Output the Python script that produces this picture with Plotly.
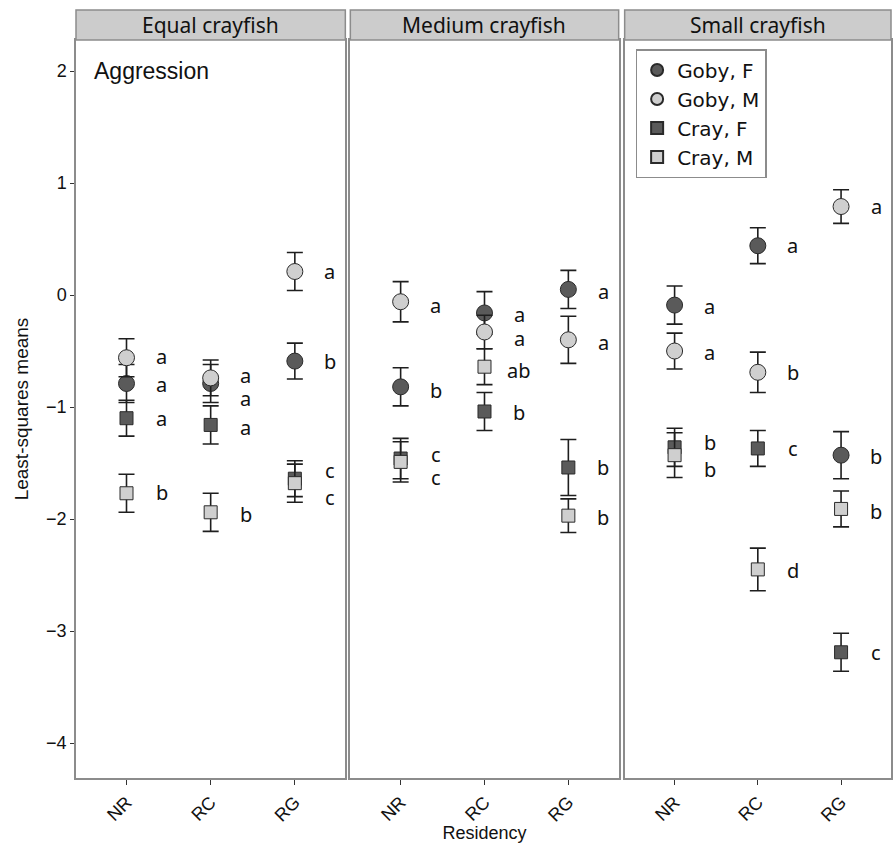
import plotly.graph_objects as go

facets = ["Equal crayfish", "Medium crayfish", "Small crayfish"]
residency = ["NR", "RC", "RG"]
series = ["Goby, F", "Goby, M", "Cray, F", "Cray, M"]

# means[series][facet] -> values for NR, RC, RG
means = {
    "Goby, F": [[-0.79, -0.79, -0.59], [-0.82, -0.16, 0.05], [-0.09, 0.44, -1.43]],
    "Goby, M": [[-0.56, -0.74, 0.21], [-0.06, -0.33, -0.40], [-0.50, -0.69, 0.79]],
    "Cray, F": [[-1.10, -1.16, -1.64], [-1.46, -1.04, -1.54], [-1.36, -1.37, -3.19]],
    "Cray, M": [[-1.77, -1.94, -1.68], [-1.49, -0.64, -1.97], [-1.43, -2.45, -1.91]],
}
ses = {
    "Goby, F": [[0.17, 0.17, 0.16], [0.17, 0.19, 0.17], [0.17, 0.16, 0.21]],
    "Goby, M": [[0.17, 0.16, 0.17], [0.18, 0.15, 0.21], [0.16, 0.18, 0.15]],
    "Cray, F": [[0.16, 0.17, 0.16], [0.18, 0.17, 0.25], [0.17, 0.16, 0.17]],
    "Cray, M": [[0.17, 0.17, 0.17], [0.18, 0.16, 0.15], [0.20, 0.19, 0.16]],
}
letters = {
    "Goby, F": [["a", "a", "b"], ["b", "a", "a"], ["a", "a", "b"]],
    "Goby, M": [["a", "a", "a"], ["a", "a", "a"], ["a", "b", "a"]],
    "Cray, F": [["a", "a", "c"], ["c", "b", "b"], ["b", "c", "c"]],
    "Cray, M": [["b", "b", "c"], ["c", "ab", "b"], ["b", "d", "b"]],
}
letter_y = {
    "Goby, F": [[-0.80, -0.92, -0.59], [-0.85, -0.17, 0.03], [-0.10, 0.44, -1.44]],
    "Goby, M": [[-0.55, -0.72, 0.21], [-0.09, -0.39, -0.42], [-0.51, -0.69, 0.79]],
    "Cray, F": [[-1.10, -1.18, -1.57], [-1.42, -1.05, -1.54], [-1.32, -1.37, -3.19]],
    "Cray, M": [[-1.76, -1.96, -1.81], [-1.63, -0.67, -1.99], [-1.56, -2.46, -1.93]],
}

fill = {"Goby, F": "#5a5a5a", "Goby, M": "#cfcfcf", "Cray, F": "#5a5a5a", "Cray, M": "#cfcfcf"}
symbol = {"Goby, F": "circle", "Goby, M": "circle", "Cray, F": "square", "Cray, M": "square"}
msize = {"Goby, F": 16, "Goby, M": 16, "Cray, F": 13, "Cray, M": 13}

W, H = 894, 843
ml, mr, mt, mb = 76, 1, 40, 65
pw = W - ml - mr
ph = H - mt - mb
px_dom = [(76, 346), (351, 620), (626, 893)]
domains = [((a - ml) / pw, (b - ml) / pw) for a, b in px_dom]

fig = go.Figure()
xpos = list(range(len(residency)))
ann = []
for fi, fac in enumerate(facets):
    xa = "x" if fi == 0 else f"x{fi+1}"
    ya = "y" if fi == 0 else f"y{fi+1}"
    for s in series:
        fig.add_trace(go.Scatter(
            x=xpos, y=means[s][fi], xaxis=xa, yaxis=ya, mode="markers",
            name=s, showlegend=(fi == 2),
            marker=dict(symbol=symbol[s], size=msize[s], color=fill[s],
                        line=dict(color="#2a2a2a", width=1)),
            error_y=dict(type="data", array=ses[s][fi], color="#1e1e1e",
                         thickness=1.6, width=8),
        ))
        for i in range(len(residency)):
            ann.append(dict(x=xpos[i], y=letter_y[s][fi][i], xref=xa, yref=ya,
                            text=letters[s][fi][i], showarrow=False, xshift=35,
                            xanchor="center", yanchor="middle",
                            font=dict(size=20, color="#111", family="Noto Sans")))

axis_common = dict(showgrid=False, zeroline=False, showline=True, mirror=True,
                   linecolor="#8c8c8c", linewidth=1.5)
lay = {}
for fi in range(3):
    xk = "xaxis" if fi == 0 else f"xaxis{fi+1}"
    yk = "yaxis" if fi == 0 else f"yaxis{fi+1}"
    lay[xk] = dict(domain=list(domains[fi]), range=[-0.6, 2.6], tickvals=xpos,
                   ticktext=residency, tickangle=-45, ticks="outside", ticklen=5,
                   tickcolor="#333", tickfont=dict(size=18, family="Liberation Sans", color="#111"),
                   anchor="y" if fi == 0 else f"y{fi+1}", **axis_common)
    lay[yk] = dict(domain=[0, 1], range=[-4.3125, 2.277], anchor="x" if fi == 0 else f"x{fi+1}",
                   tickvals=[2, 1, 0, -1, -2, -3, -4],
                   ticktext=["2", "1", "0", "\u22121", "\u22122", "\u22123", "\u22124"],
                   showticklabels=(fi == 0), ticks="outside" if fi == 0 else "", ticklen=4,
                   tickcolor="#333", tickfont=dict(size=18, family="Liberation Sans", color="#111"),
                   **axis_common)
lay["xaxis2"]["title"] = dict(text="Residency", font=dict(size=18, family="Liberation Sans", color="#111"), standoff=2)
lay["yaxis"]["title"] = dict(text="Least-squares means", font=dict(size=19, family="Liberation Sans", color="#111"), standoff=12)

shapes = []
strip_h = 30 / ph
for fi, fac in enumerate(facets):
    x0, x1 = domains[fi]
    shapes.append(dict(type="rect", xref="paper", yref="paper", x0=x0, x1=x1, y0=1, y1=1 + strip_h,
                       fillcolor="#cccccc", line=dict(color="#8c8c8c", width=1.5)))
    ann.append(dict(x=(x0 + x1) / 2, y=1 + strip_h / 2, xref="paper", yref="paper", text=fac,
                    showarrow=False, xanchor="center", yanchor="middle",
                    font=dict(size=21, family="Noto Sans", color="#111")))

ann.append(dict(x=0, y=2.0, xref="x", yref="y", text="Aggression", showarrow=False,
                xanchor="left", yanchor="middle", xshift=-35,
                font=dict(size=23, family="Liberation Sans", color="#111")))

fig.update_layout(
    width=W, height=H, margin=dict(l=ml, r=mr, t=mt, b=mb),
    plot_bgcolor="white", paper_bgcolor="white",
    shapes=shapes, annotations=ann,
    legend=dict(x=(637 - ml) / pw, y=1 - (49 - mt) / ph, xanchor="left", yanchor="top",
                bordercolor="#8c8c8c", borderwidth=1.5, bgcolor="white",
                font=dict(size=20, family="DejaVu Sans", color="#111"),
                tracegroupgap=0, itemsizing="constant"),
    **lay,
)
fig.write_html("out.html", config={"displayModeBar": False})

# remove default page margin so the figure sits at the window's top-left corner
with open("out.html", encoding="utf-8") as f:
    html = f.read()
html = html.replace("<head>", "<head><style>html,body{margin:0;padding:0;overflow:hidden;}</style>", 1)
with open("out.html", "w", encoding="utf-8") as f:
    f.write(html)
